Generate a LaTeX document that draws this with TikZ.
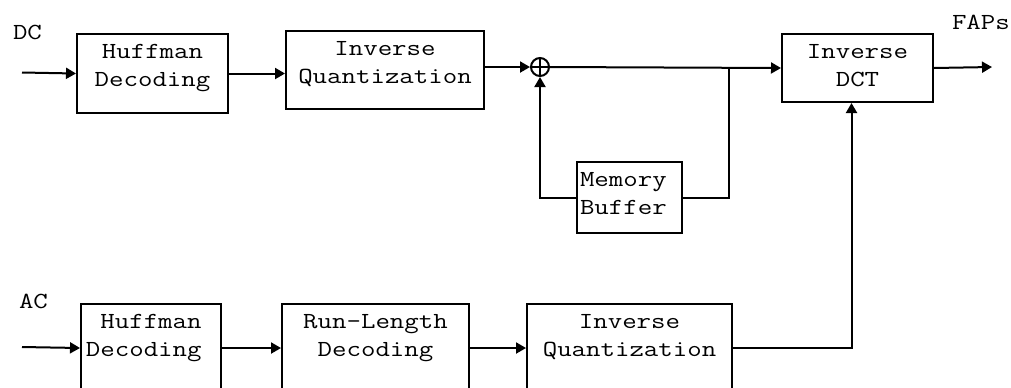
\documentclass[tikz,border=0pt]{standalone}
\usepackage{fontspec}
\setmonofont{Latin Modern Mono}[FakeStretch=1.22]
\usepackage{tikz}
\usetikzlibrary{arrows.meta, positioning}

\tikzset{
    blk/.style={draw, line width=1pt, inner sep=0pt, align=center, anchor=north,
        font=\ttfamily\fontsize{11.5}{14}\selectfont, text height=12pt},
    lbl/.style={font=\ttfamily\fontsize{11.5}{14}\selectfont, inner sep=0pt, anchor=west}
}

\begin{document}
\begin{tikzpicture}[>={Triangle[length=5pt, width=5.5pt]}, x=0.5pt, y=-0.5pt, line width=1pt]
    \useasboundingbox (0,0) rectangle (1011,387);
    \clip (0,0) rectangle (1011,387);

    % DC branch
    \node[lbl] (dc) at (12,32) {DC};
    \node[blk, text width=75.5pt, text depth=27.5pt] (hufdc) at (152.5,33) {Huffman\\Decoding};
    \node[blk, text width=99pt, text depth=27pt] (iqdc) at (385,30) {Inverse\\Quantization};
    \node[draw, circle, minimum size=9pt, inner sep=0pt] (sum) at (540,67) {};
    \draw (sum.north) -- (sum.south) (sum.west) -- (sum.east);
    \node[blk, text width=75.5pt, text depth=22pt] (idct) at (857.5,33) {Inverse\\DCT};
    \node[lbl] (faps) at (951,22) {FAPs};
    \node[blk, align=left, inner xsep=1.5pt, text width=49.5pt, text depth=23.5pt] (mem) at (629.5,161) {Memory\\Buffer};

    % DC arrows and feedback loop
    \coordinate (dcin) at (22,72.5);
    \coordinate (tap) at (729,67);
    \coordinate (out) at (992,67);
    \draw[->] (dcin) -- (hufdc.west);
    \draw[->] (hufdc.east) -- (hufdc.east -| iqdc.west);
    \draw[->] (iqdc.east |- sum) -- (sum.west);
    \draw[->] (sum.east) -- (idct.west);
    \draw[->] (idct.east) -- (out);
    \draw (tap) |- (mem.east);
    \draw[->] (mem.west) -| (sum.south);

    % AC branch
    \node[lbl] (ac) at (18,301) {AC};
    \node[blk, text width=70pt, text depth=32pt] (hufac) at (151,303) {Huffman\\Decoding\hphantom{x}};
    \node[blk, text width=93.5pt, text depth=32pt] (rld) at (375.5,303) {Run-Length\\Decoding};
    \node[blk, text width=102.5pt, text depth=32pt] (iqac) at (629.5,303) {Inverse\\Quantization};

    % AC arrows
    \coordinate (acin) at (22,347);
    \draw[->] (acin) -- (hufac.west);
    \draw[->] (hufac.east) -- (rld.west);
    \draw[->] (rld.east) -- (iqac.west);
    \draw[->] (iqac.east) -| ([xshift=-3pt]idct.south);
\end{tikzpicture}
\end{document}
